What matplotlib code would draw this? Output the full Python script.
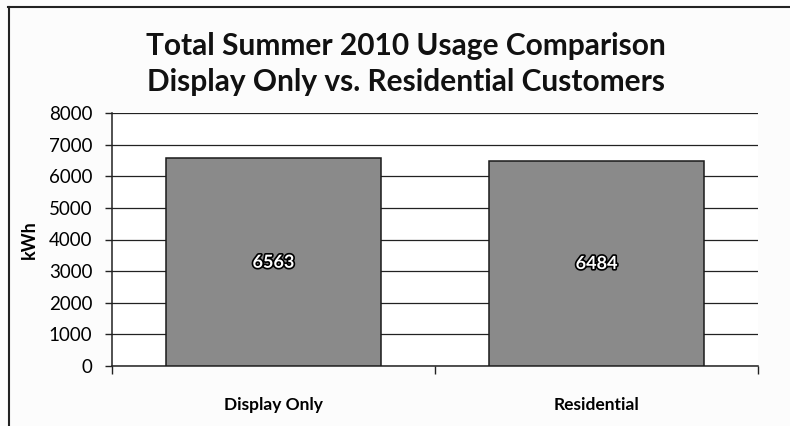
import matplotlib
matplotlib.use("Agg")
import matplotlib.pyplot as plt
import matplotlib.patheffects as pe
from matplotlib.lines import Line2D

categories = ["Display Only", "Residential"]
values = [6563, 6484]
yticks = [0, 1000, 2000, 3000, 4000, 5000, 6000, 7000, 8000]
title = "Total Summer 2010 Usage Comparison\nDisplay Only vs. Residential Customers"
ylabel = "kWh"

plt.rcParams['font.family'] = ['Lato', 'DejaVu Sans']

fig = plt.figure(figsize=(7.9, 4.26), dpi=100)
fig.patch.set_facecolor("#fcfcfc")
ax = fig.add_axes([112/790, 1-366/426, (758-112)/790, (366-113)/426])
ax.set_facecolor("white")

x = list(range(len(categories)))
bars = ax.bar(x, values, width=0.665, color="#8a8a8a", edgecolor="#1a1a1a", linewidth=1.1, zorder=3)
for xi, v in zip(x, values):
    ax.text(xi, v/2, f"{v}", ha="center", va="center", fontsize=13, color="white",
            fontweight="bold", zorder=4,
            path_effects=[pe.withStroke(linewidth=2.4, foreground="black")])

ax.set_xlim(-0.5, len(categories)-0.5)
ax.set_ylim(0, 8000)
ax.set_yticks(yticks)
ax.set_yticklabels([str(t) for t in yticks], fontsize=13.5)
ax.yaxis.grid(True, color="#222222", linewidth=0.9, zorder=1)
ax.set_axisbelow(True)
ax.tick_params(axis="y", length=5, width=1, pad=9, direction="out", color="#222222")

ax.set_xticks(x)
ax.set_xticklabels(categories, fontsize=12.5, fontweight="bold")
ax.tick_params(axis="x", which="major", length=0, pad=22)
ax.set_xticks([-0.5 + i for i in range(len(categories)+1)], minor=True)
ax.tick_params(axis="x", which="minor", length=6, width=1, direction="out", color="#222222")

for s in ["top", "right"]:
    ax.spines[s].set_visible(False)
for s in ["left", "bottom"]:
    ax.spines[s].set_color("#222222")
    ax.spines[s].set_linewidth(1.1)

ax.set_ylabel(ylabel, fontsize=13, fontweight="bold", labelpad=8)

fig.text(406/790, 1-64/426, title, ha="center", va="center", fontsize=21.5,
         fontweight="bold", linespacing=1.38, color="#111111")

fig.add_artist(Line2D([8/790, 1.0], [1-7/426, 1-7/426], transform=fig.transFigure,
                      color="#222222", linewidth=1.5))
fig.add_artist(Line2D([9/790, 9/790], [0, 1-7/426], transform=fig.transFigure,
                      color="#222222", linewidth=1.5))

fig.savefig("out.png", dpi=100)
